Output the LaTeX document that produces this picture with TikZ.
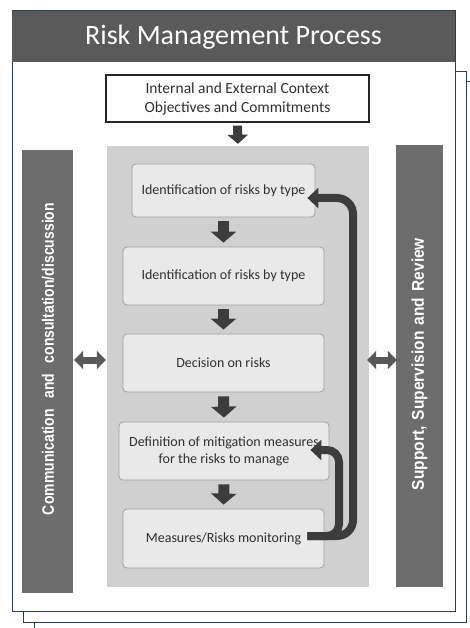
\documentclass[tikz,border=0pt]{standalone}
\usepackage{fontspec}
\setmainfont{Carlito}
\newfontfamily\barfont{Liberation Sans}
\usetikzlibrary{arrows.meta}
\newcommand\fitx[2]{\setbox0\hbox{#2}\pgfmathsetmacro\fitfactor{#1/\wd0}\scalebox{\fitfactor}[1]{\box0}}
\definecolor{pageline}{HTML}{2E3D4C}
\definecolor{titlefill}{HTML}{5A5A5A}
\definecolor{barfill}{HTML}{6D6D6D}
\definecolor{panelfill}{HTML}{D0D0D0}
\definecolor{boxfill}{HTML}{E9E9E9}
\definecolor{boxline}{HTML}{A0A0A0}
\definecolor{arrowc}{HTML}{3C3C3C}
\definecolor{dblc}{HTML}{595959}
\definecolor{txt}{HTML}{303030}
\begin{document}
\begin{tikzpicture}[x=1pt,y=-1pt,
  page/.style={draw=pageline, line width=1pt, fill=white},
  stepbox/.style={draw=boxline, fill=boxfill, rounded corners=4pt, line width=0.8pt,
    font=\fontsize{14}{17}\selectfont, text=txt, align=center, inner sep=0pt},
  bar/.style={fill=barfill, inner sep=0pt},
  bartext/.style={rotate=90, text=white, inner sep=0pt, font=\barfont\bfseries},
  blockarrow/.style={draw=arrowc, line width=11pt, -{Triangle[length=11pt,width=25pt]}, shorten <=4pt, shorten >=4pt},
  ctxarrow/.style={draw=arrowc, line width=9pt, -{Triangle[length=9pt,width=20pt]}, shorten <=3pt, shorten >=2pt},
  dblarrow/.style={draw=dblc, line width=7pt, {Triangle[length=9pt,width=18pt]}-{Triangle[length=9pt,width=18pt]}},
  fbarrow/.style={draw=arrowc, line width=8pt, -{Triangle[length=11pt,width=20pt]}}
]
\useasboundingbox (0,0) rectangle (470,628);
% stacked pages
\draw[page] (34,82) rectangle (490,645);
\draw[page] (23,72) rectangle (466,622);
\draw[page] (12,11) rectangle (455,611);
\node[fill=titlefill, minimum width=443pt, minimum height=51pt, inner sep=0pt] (title) at (233.5,36.5) {};
\node[text=white, font=\fontsize{28}{32}\selectfont] (titletext) at (233.5,37) {Risk Management Process};
% context
\node[draw=black!85, line width=1.3pt, fill=white, minimum width=263pt, minimum height=47pt,
  inner sep=0pt, align=center, text=txt, font=\fontsize{15.5}{19}\selectfont] (ctx) at (237.5,98.5)
  {Internal and External Context\\Objectives and Commitments};
% panel and bars
\node[fill=panelfill, minimum width=262pt, minimum height=441pt, inner sep=0pt] (panel) at (238,366.5) {};
\node[bar, minimum width=51pt, minimum height=443pt] (lbar) at (47.5,371.5) {};
\node[bar, minimum width=47pt, minimum height=442pt] (rbar) at (419.5,366) {};
\node[bartext, font=\barfont\bfseries\fontsize{16.5}{18}\selectfont] (ltext) at (48,359)
  {\fitx{312}{Communication\hspace{0.75em}and\hspace{0.75em}consultation/discussion}};
\node[bartext, font=\barfont\bfseries\fontsize{17}{19}\selectfont] (rtext) at (419.5,364)
  {\fitx{252}{Support,\hspace{0.4em}Supervision\hspace{0.4em}and\hspace{0.4em}Review}};
% steps
\node[stepbox, minimum width=183pt, minimum height=53pt] (b1) at (223.5,190.5) {Identification of risks by type};
\node[stepbox, minimum width=201pt, minimum height=58pt] (b2) at (223.5,276) {Identification of risks by type};
\node[stepbox, minimum width=201pt, minimum height=58pt] (b3) at (223.5,363) {Decision on risks};
\node[stepbox, minimum width=210pt, minimum height=58pt] (b4) at (224,451) {Definition of mitigation measures\\for the risks to manage};
\node[stepbox, minimum width=201pt, minimum height=59pt] (b5) at (223.5,538.5) {Measures/Risks monitoring};
% flow arrows
\draw[ctxarrow] (ctx.south) -- (panel.north);
\draw[blockarrow] (b1.south) -- (b2.north);
\draw[blockarrow] (b2.south) -- (b3.north);
\draw[blockarrow] (b3.south) -- (b4.north);
\draw[blockarrow] (b4.south) -- (b5.north);
% side double arrows
\coordinate (ay) at (0,360);
\draw[dblarrow] ([xshift=1pt]lbar.east |- ay) -- ([xshift=-1pt]panel.west |- ay);
\draw[dblarrow] ([xshift=-2pt]panel.east |- ay) -- ([xshift=1pt]rbar.west |- ay);
% feedback arrows
\coordinate (fs) at ([shift={(-17pt,2.5pt)}]b5.east);
\coordinate (fe1) at ([shift={(-8pt,-7.5pt)}]b1.east);
\coordinate (fe4) at ([shift={(-19pt,1pt)}]b4.east);
\coordinate (xo) at (353,0);
\coordinate (xi) at (339,0);
\draw[fbarrow, rounded corners=12pt] (fs) -| (xi |- fe4) -- (fe4);
\draw[fbarrow, rounded corners=16pt] (fs) -| (xo |- fe1) -- (fe1);
\end{tikzpicture}
\end{document}
